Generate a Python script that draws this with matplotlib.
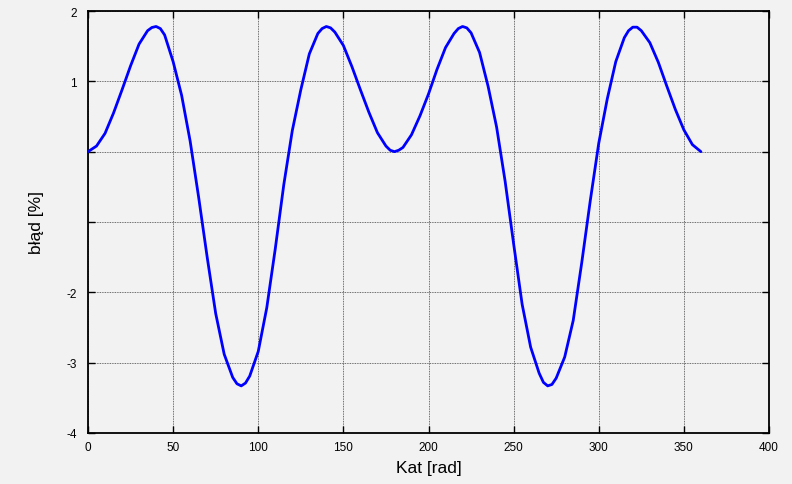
import numpy as np
import matplotlib
matplotlib.use("Agg")
import matplotlib.pyplot as plt

# angle [deg] and error [%] (extra samples near the extremes)
kat = [0, 5, 10, 15, 20, 25, 30, 35, 37.5, 40, 42.5, 45,
       50, 55, 60, 65, 70, 75, 80, 85, 87.5, 90, 92.5, 95,
       100, 105, 110, 115, 120, 125, 130, 135, 137.5, 140, 142.5, 145,
       150, 155, 160, 165, 170, 175, 177.5, 180, 182.5, 185,
       190, 195, 200, 205, 210, 215, 217.5, 220, 222.5, 225,
       230, 235, 240, 245, 250, 255, 260, 265, 267.5, 270, 272.5, 275,
       280, 285, 290, 295, 300, 305, 310, 315, 317.5, 320, 322.5, 325,
       330, 335, 340, 345, 350, 355, 360]
blad = [0.00, 0.08, 0.26, 0.55, 0.88, 1.22, 1.53, 1.72, 1.765, 1.78, 1.75, 1.66,
        1.28, 0.80, 0.15, -0.65, -1.50, -2.30, -2.88, -3.21, -3.30, -3.33, -3.29, -3.19,
        -2.84, -2.22, -1.38, -0.47, 0.30, 0.88, 1.39, 1.68, 1.75, 1.78, 1.76, 1.70,
        1.51, 1.21, 0.88, 0.56, 0.27, 0.08, 0.02, 0.00, 0.02, 0.06,
        0.24, 0.51, 0.82, 1.17, 1.48, 1.68, 1.75, 1.78, 1.76, 1.69,
        1.41, 0.93, 0.35, -0.42, -1.31, -2.17, -2.78, -3.15, -3.28, -3.33, -3.31, -3.22,
        -2.92, -2.40, -1.58, -0.70, 0.12, 0.75, 1.28, 1.62, 1.72, 1.77, 1.77, 1.72,
        1.55, 1.27, 0.93, 0.60, 0.31, 0.10, 0.00]

x_ticks = [0, 50, 100, 150, 200, 250, 300, 350, 400]
y_ticks = [-4, -3, -2, -1, 0, 1, 2]
y_tick_labels = ["-4", "-3", "-2", "", "", "1", "2"]

plt.rcParams['font.family'] = ['Liberation Sans', 'DejaVu Sans']
bg = "#f2f2f2"

fig = plt.figure(figsize=(7.92, 4.85), dpi=100, facecolor=bg)
ax = fig.add_axes([88/792, 1 - 434/485, (769 - 88)/792, (434 - 12)/485])
ax.set_facecolor(bg)

ax.plot(kat, blad, color="#0000ff", linewidth=2.0, zorder=3,
        solid_joinstyle="round", solid_capstyle="round")

ax.set_xlim(0, 400)
ax.set_ylim(-4, 2)
ax.set_xticks(x_ticks)
ax.set_yticks(y_ticks)
ax.set_yticklabels(y_tick_labels)
ax.grid(True, color="#404040", linestyle=(0, (1, 1)), linewidth=0.6)

ax.tick_params(direction="in", length=5, width=1, top=True, right=True,
               labelsize=8.5, colors="black", pad=8)
ax.tick_params(axis="x", pad=6)
for sp in ax.spines.values():
    sp.set_linewidth(1.3)
    sp.set_color("black")

ax.set_xlabel("Kat [rad]", fontsize=12.5, labelpad=5)
ax.set_ylabel("błąd [%]", fontsize=12.5, labelpad=16)

fig.savefig("out.png", dpi=100, facecolor=bg)
